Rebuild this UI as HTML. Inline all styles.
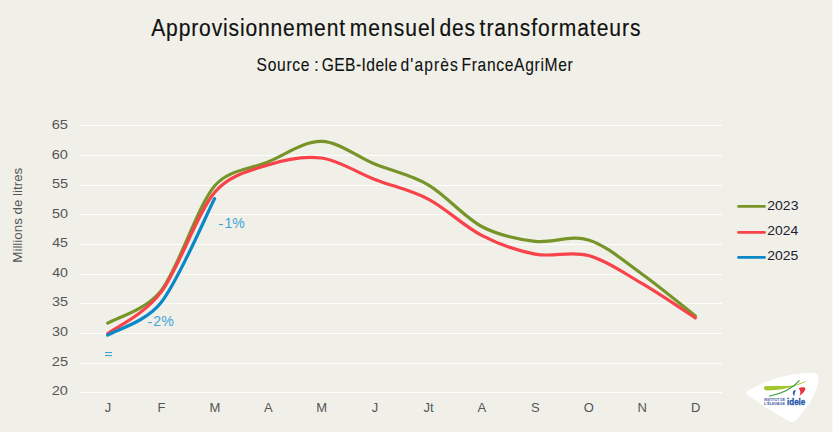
<!DOCTYPE html>
<html><head><meta charset="utf-8"><style>
html,body{margin:0;padding:0;background:#F0F0E8;}
body{width:833px;height:432px;overflow:hidden;position:relative;}
svg{position:absolute;left:0;top:0;}
text{font-family:"Liberation Sans",sans-serif;}
.ax{font-size:13px;fill:#555555;}
</style></head><body>
<svg width="833" height="432" viewBox="0 0 833 432">
<rect x="0" y="0" width="833" height="432" fill="#F0F0E8"/>
<rect x="832" y="0" width="1" height="432" fill="#FAFAF7"/>
<text transform="scale(0.8600,1)" x="175.82" y="35.80" font-size="24.5" fill="#111111" textLength="225.40" lengthAdjust="spacing" stroke="#111111" stroke-width="0.2">Approvisionnement</text>
<text transform="scale(0.8600,1)" x="406.63" y="35.80" font-size="24.5" fill="#111111" textLength="99.54" lengthAdjust="spacing" stroke="#111111" stroke-width="0.2">mensuel</text>
<text transform="scale(0.8600,1)" x="511.18" y="35.80" font-size="24.5" fill="#111111" textLength="41.33" lengthAdjust="spacing" stroke="#111111" stroke-width="0.2">des</text>
<text transform="scale(0.8600,1)" x="557.65" y="35.80" font-size="24.5" fill="#111111" textLength="187.13" lengthAdjust="spacing" stroke="#111111" stroke-width="0.2">transformateurs</text>
<text transform="scale(0.8400,1)" x="305.41" y="70.90" font-size="18.6" fill="#111111" textLength="62.98" lengthAdjust="spacing" stroke="#111111" stroke-width="0.12">Source</text>
<text transform="scale(0.8400,1)" x="374.02" y="70.90" font-size="18.6" fill="#111111" textLength="5.66" lengthAdjust="spacing" stroke="#111111" stroke-width="0.12">:</text>
<text transform="scale(0.8400,1)" x="382.99" y="70.90" font-size="18.6" fill="#111111" textLength="89.74" lengthAdjust="spacing" stroke="#111111" stroke-width="0.12">GEB-Idele</text>
<text transform="scale(0.8400,1)" x="476.84" y="70.90" font-size="18.6" fill="#111111" textLength="68.24" lengthAdjust="spacing" stroke="#111111" stroke-width="0.12">d'après</text>
<text transform="scale(0.8400,1)" x="549.43" y="70.90" font-size="18.6" fill="#111111" textLength="132.43" lengthAdjust="spacing" stroke="#111111" stroke-width="0.12">FranceAgriMer</text>

<rect x="81" y="392" width="641" height="1" fill="#FFFFFF"/>
<rect x="81" y="363" width="641" height="1" fill="#FFFFFF"/>
<rect x="81" y="333" width="641" height="1" fill="#FFFFFF"/>
<rect x="81" y="303" width="641" height="1" fill="#FFFFFF"/>
<rect x="81" y="274" width="641" height="1" fill="#FFFFFF"/>
<rect x="81" y="244" width="641" height="1" fill="#FFFFFF"/>
<rect x="81" y="214" width="641" height="1" fill="#FFFFFF"/>
<rect x="81" y="185" width="641" height="1" fill="#FFFFFF"/>
<rect x="81" y="155" width="641" height="1" fill="#FFFFFF"/>
<rect x="81" y="125" width="641" height="1" fill="#FFFFFF"/>

<text x="51.77" y="395.10" font-size="13" fill="#555555" textLength="16.20" lengthAdjust="spacingAndGlyphs" >20</text>
<text x="51.77" y="366.10" font-size="13" fill="#555555" textLength="16.25" lengthAdjust="spacingAndGlyphs" >25</text>
<text x="51.95" y="336.10" font-size="13" fill="#555555" textLength="16.01" lengthAdjust="spacingAndGlyphs" >30</text>
<text x="51.95" y="306.10" font-size="13" fill="#555555" textLength="16.06" lengthAdjust="spacingAndGlyphs" >35</text>
<text x="52.17" y="277.10" font-size="13" fill="#555555" textLength="15.78" lengthAdjust="spacingAndGlyphs" >40</text>
<text x="52.17" y="247.10" font-size="13" fill="#555555" textLength="15.82" lengthAdjust="spacingAndGlyphs" >45</text>
<text x="51.92" y="218.10" font-size="13" fill="#555555" textLength="16.04" lengthAdjust="spacingAndGlyphs" >50</text>
<text x="51.92" y="188.10" font-size="13" fill="#555555" textLength="16.09" lengthAdjust="spacingAndGlyphs" >55</text>
<text x="51.76" y="159.10" font-size="13" fill="#555555" textLength="16.21" lengthAdjust="spacingAndGlyphs" >60</text>
<text x="51.76" y="129.10" font-size="13" fill="#555555" textLength="16.26" lengthAdjust="spacingAndGlyphs" >65</text>

<text x="108.00" y="411.8" text-anchor="middle" class="ax">J</text>
<text x="161.42" y="411.8" text-anchor="middle" class="ax">F</text>
<text x="214.84" y="411.8" text-anchor="middle" class="ax">M</text>
<text x="268.26" y="411.8" text-anchor="middle" class="ax">A</text>
<text x="321.68" y="411.8" text-anchor="middle" class="ax">M</text>
<text x="375.10" y="411.8" text-anchor="middle" class="ax">J</text>
<text x="428.52" y="411.8" text-anchor="middle" class="ax">Jt</text>
<text x="481.94" y="411.8" text-anchor="middle" class="ax">A</text>
<text x="535.36" y="411.8" text-anchor="middle" class="ax">S</text>
<text x="588.78" y="411.8" text-anchor="middle" class="ax">O</text>
<text x="642.20" y="411.8" text-anchor="middle" class="ax">N</text>
<text x="695.62" y="411.8" text-anchor="middle" class="ax">D</text>

<text transform="translate(21.8,0) rotate(-90)" x="-262.70" y="0" font-size="13.3" fill="#555555" textLength="94.98" lengthAdjust="spacingAndGlyphs">Millions de litres</text>
<g fill="none" stroke-linecap="round" stroke-linejoin="round" stroke-width="3.2">
<path d="M107.70,323.18 C116.60,317.75 145.83,310.23 161.12,290.61 C178.93,267.76 196.73,207.51 214.54,186.07 C228.33,169.47 250.15,169.44 267.96,162.00 C285.77,154.57 303.57,141.09 321.38,141.44 C339.19,141.79 356.99,156.84 374.80,164.08 C392.61,171.32 410.41,174.48 428.22,184.88 C446.03,195.28 463.83,217.08 481.64,226.49 C499.45,235.90 517.25,239.10 535.06,241.34 C552.87,243.58 570.67,234.48 588.48,239.92 C606.29,245.35 624.09,261.30 641.90,273.97 C659.71,286.64 686.42,308.93 695.32,315.93" stroke="#779428"/>
<path d="M107.70,333.70 C116.60,326.76 143.63,315.22 161.12,292.10 C178.93,268.56 196.73,213.69 214.54,192.49 C229.41,174.79 250.15,170.66 267.96,164.92 C285.77,159.17 303.57,155.60 321.38,158.02 C339.19,160.45 356.99,172.63 374.80,179.48 C392.61,186.32 410.41,189.78 428.22,199.09 C446.03,208.40 463.83,226.17 481.64,235.34 C499.45,244.51 517.25,250.75 535.06,254.12 C552.87,257.49 570.67,250.65 588.48,255.55 C606.29,260.44 624.09,273.08 641.90,283.48 C659.71,293.88 686.42,312.20 695.32,317.95" stroke="#F8434B"/>
<path d="M107.70,335.06 C116.60,329.64 145.75,322.10 161.12,302.50 C178.93,279.78 205.64,216.08 214.54,198.79" stroke="#0A88C8"/>
</g>
<rect x="148" y="322" width="4" height="1.1" fill="#45A3D8"/>
<text x="153.29" y="326.00" font-size="13.8" fill="#45A3D8" textLength="20.41" lengthAdjust="spacingAndGlyphs" >2%</text>
<rect x="219" y="224" width="4" height="1.1" fill="#45A3D8"/>
<text x="224.53" y="228.00" font-size="13.8" fill="#45A3D8" textLength="20.27" lengthAdjust="spacingAndGlyphs" >1%</text>
<rect x="105" y="352" width="7" height="1.1" fill="#45A3D8"/><rect x="105" y="355" width="7" height="1.1" fill="#45A3D8"/>

<line x1="738.5" x2="764.5" y1="206.40" y2="206.40" stroke="#779428" stroke-width="2.8" stroke-linecap="round"/>
<text x="767.30" y="210.20" font-size="12.5" fill="#202030" textLength="31.12" lengthAdjust="spacingAndGlyphs" >2023</text>
<line x1="738.5" x2="764.5" y1="232.40" y2="232.40" stroke="#F8434B" stroke-width="2.8" stroke-linecap="round"/>
<text x="767.30" y="235.30" font-size="12.5" fill="#202030" textLength="30.91" lengthAdjust="spacingAndGlyphs" >2024</text>
<line x1="738.5" x2="764.5" y1="257.40" y2="257.40" stroke="#0A88C8" stroke-width="2.8" stroke-linecap="round"/>
<text x="767.30" y="260.10" font-size="12.5" fill="#202030" textLength="31.09" lengthAdjust="spacingAndGlyphs" >2025</text>

<!-- logo -->
<path d="M747,391.5 C765,380 790,373 811,373 C816,372.6 819,374 818.5,379 C818,393 805,411 795.5,420.6 C793.6,422.5 791,422.3 789,421.1 C775,413 760,403.5 748,395.5 C745.6,394 745.6,392.6 747,391.5 Z" fill="#FFFFFF"/>
<path d="M765.5,386.2 C775,386.0 786,386.4 794,385.6 C788,388.4 780,390.3 767,390.4 C763.2,390.3 763.2,386.4 765.5,386.2 Z" fill="#A2C62B"/>
<path d="M790,387 C796,385.5 801,383.5 805.5,381.5" stroke="#A2C62B" stroke-width="0.9" fill="none"/>
<path d="M769,396.3 C782,393.5 793,388 799.5,380.3" stroke="#3C9A3A" stroke-width="1.1" fill="none"/>
<path d="M793.8,390.5 C792.3,392 792.4,395 794.5,396.2 C794.3,394.5 794.6,392.3 796.2,390.3 Z" fill="#2D5FAF"/>
<path d="M798.5,388.5 C801,387 804.5,386.5 805.3,388.2 C805.6,390.5 802.5,394 799.5,395.5 C800.8,393 800.8,390.5 798.5,388.5 Z" fill="#E8343C"/>
<text x="787" y="405.3" font-size="9" font-weight="bold" fill="#2257A8" stroke="#2257A8" stroke-width="0.35" textLength="18.3" lengthAdjust="spacingAndGlyphs">idele</text>
<text x="764" y="401" font-size="3.2" font-weight="bold" fill="#3A5A9E" textLength="21" lengthAdjust="spacingAndGlyphs">INSTITUT DE</text>
<text x="764" y="404.6" font-size="3.2" font-weight="bold" fill="#3A5A9E" textLength="21" lengthAdjust="spacingAndGlyphs">L'ÉLEVAGE</text>
</svg>
</body></html>
